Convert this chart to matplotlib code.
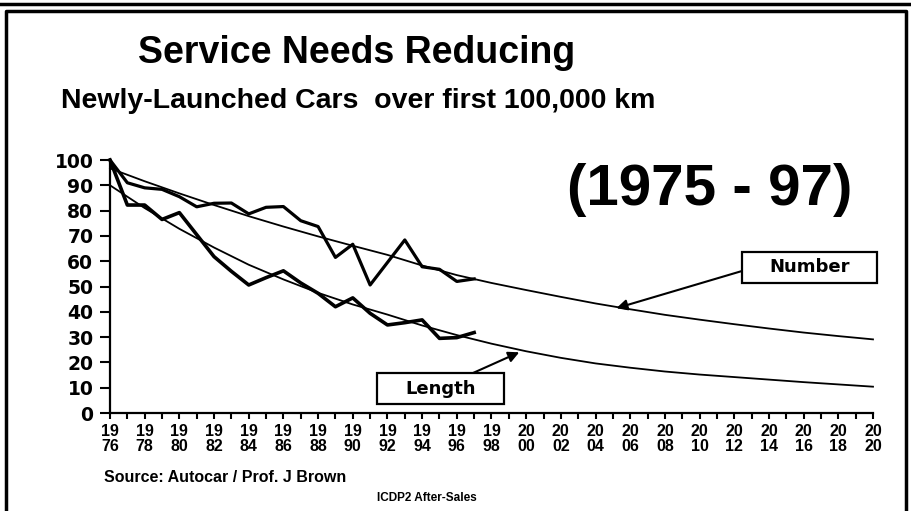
import matplotlib
matplotlib.use('Agg')
import matplotlib.pyplot as plt
from matplotlib import font_manager
from matplotlib.patches import Rectangle
from matplotlib.lines import Line2D
import numpy as np

# data (index, 1976 = 100)
years = list(range(1976, 1998))
number = [100, 91, 89, 88.4, 85.5, 81.5, 82.9, 83, 78.7, 81.3, 81.6,
          76, 73.7, 61.5, 66.7, 50.6, 59.5, 68.4, 57.8, 56.8, 52, 53]
length = [100, 82.2, 82.2, 76.5, 79.2, 70.5, 61.8, 56, 50.6, 53.5, 56.2,
          51.4, 47.3, 42, 45.5, 39.4, 34.8, 35.7, 36.8, 29.5, 29.8, 31.8]

# trend curves, read every 2 years
trend_years = list(range(1976, 2021, 2))
number_trend = [96.7, 91.6, 86.8, 82.2, 77.8, 73.7, 69.8, 66.1, 62.5, 58.3, 54.5, 51.4,
                48.6, 45.9, 43.3, 41.0, 38.8, 36.9, 35.1, 33.4, 31.8, 30.4, 29.1]
length_trend = [90, 81, 72.8, 65.4, 58.6, 52.8, 47.5, 42.9, 38.9, 34.6, 30.8, 27.4,
                24.4, 21.8, 19.6, 17.9, 16.4, 15.2, 14.2, 13.2, 12.2, 11.3, 10.4]

tick_years = list(range(1976, 2021, 2))
tick_labels = ['%s\n%s' % (str(y)[:2], str(y)[2:]) for y in tick_years]

W, H = 911, 511


def fx(px):
    return px / W


def fy(py):
    return 1 - py / H


names = {f.name for f in font_manager.fontManager.ttflist}
if 'Liberation Sans Narrow' in names:
    title_font, title_size = 'Liberation Sans Narrow', 31
else:
    title_font, title_size = 'Liberation Sans', 27

fig = plt.figure(figsize=(9.11, 5.11), dpi=100)
fig.patch.set_facecolor('white')

# page frame of the scanned slide
fig.add_artist(Line2D([0, 1], [fy(4), fy(4)], transform=fig.transFigure, lw=2.5, color='black'))
fig.add_artist(Line2D([fx(6), fx(6), fx(906), fx(906)], [0, fy(11), fy(11), 0],
                      transform=fig.transFigure, lw=2.5, color='black'))

fig.text(fx(357), fy(63), 'Service Needs Reducing', family=title_font, weight='bold',
         fontsize=title_size, ha='center', va='baseline')
fig.text(fx(358), fy(108), 'Newly-Launched Cars  over first 100,000 km', family='Liberation Sans',
         weight='bold', fontsize=20.5, ha='center', va='baseline')
fig.text(fx(710), fy(205), '(1975 - 97)', family='Liberation Sans', weight='bold',
         fontsize=42, ha='center', va='baseline')
fig.text(fx(104), fy(482), 'Source: Autocar / Prof. J Brown', family='Liberation Sans',
         weight='bold', fontsize=11.5, ha='left', va='baseline')
fig.text(fx(427), fy(501), 'ICDP2 After-Sales', family=title_font, weight='bold',
         fontsize=8.5, ha='center', va='baseline')

ax = fig.add_axes([fx(110), fy(413), fx(873) - fx(110), fy(160) - fy(413)])
ax.plot(years, number, color='black', lw=2.3, clip_on=False)
ax.plot(years, length, color='black', lw=2.6, clip_on=False)
ax.plot(trend_years, number_trend, color='black', lw=1.3, clip_on=False)
ax.plot(trend_years, length_trend, color='black', lw=1.3, clip_on=False)

ax.set_xlim(1976, 2020)
ax.set_ylim(0, 100)
for s in ['top', 'right']:
    ax.spines[s].set_visible(False)
for s in ['left', 'bottom']:
    ax.spines[s].set_linewidth(1.6)

ax.set_yticks(range(0, 101, 10))
ax.set_xticks(tick_years)
ax.set_xticklabels(tick_labels)
ax.set_xticks(range(1976, 2021), minor=True)
ax.tick_params(axis='y', length=7, width=1.5, pad=5)
ax.tick_params(axis='x', which='both', length=4, width=1.5, pad=4)
for lab in ax.get_yticklabels():
    lab.set_family('DejaVu Sans')
    lab.set_weight('bold')
    lab.set_fontsize(13.5)
for lab in ax.get_xticklabels():
    lab.set_family('Liberation Sans')
    lab.set_weight('bold')
    lab.set_fontsize(11.5)
    lab.set_linespacing(1.0)

# labelled boxes with arrows to the trend curves
fig.add_artist(Rectangle((fx(742), fy(283)), fx(877) - fx(742), fy(252) - fy(283),
                         transform=fig.transFigure, facecolor='white', edgecolor='black', lw=1.6))
fig.text(fx(809.5), fy(267.5), 'Number', family='DejaVu Sans', weight='bold', fontsize=13,
         ha='center', va='center')
fig.add_artist(Rectangle((fx(377), fy(404)), fx(504) - fx(377), fy(373) - fy(404),
                         transform=fig.transFigure, facecolor='white', edgecolor='black', lw=1.6))
fig.text(fx(440.5), fy(388.5), 'Length', family='DejaVu Sans', weight='bold', fontsize=13,
         ha='center', va='center')

tip = 2005.2
ax.annotate('', xy=(tip, np.interp(tip, trend_years, number_trend) - 0.5), xycoords='data',
            xytext=(fx(742), fy(271)), textcoords='figure fraction',
            arrowprops=dict(arrowstyle='-|>', color='black', lw=1.5, mutation_scale=16,
                            shrinkA=0, shrinkB=0))
tip = 1999.6
ax.annotate('', xy=(tip, np.interp(tip, trend_years, length_trend) - 1), xycoords='data',
            xytext=(fx(473), fy(373)), textcoords='figure fraction',
            arrowprops=dict(arrowstyle='-|>', color='black', lw=1.5, mutation_scale=16,
                            shrinkA=0, shrinkB=0))

fig.savefig('out.png', dpi=100)
